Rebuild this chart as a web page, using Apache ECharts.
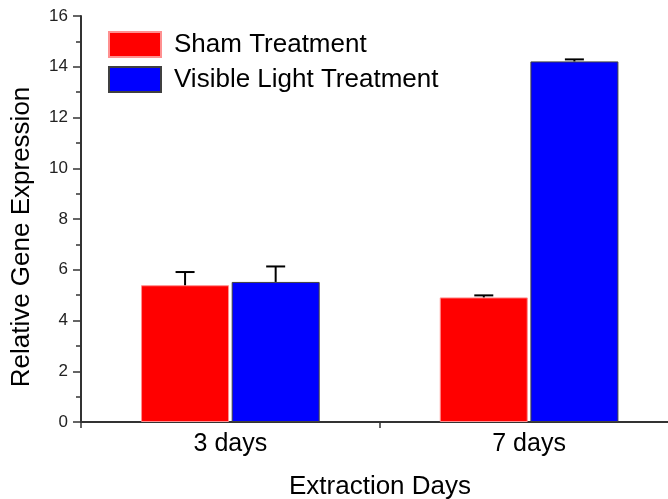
<!DOCTYPE html>
<html><head><meta charset="utf-8">
<script src="https://cdn.jsdelivr.net/npm/echarts@6/dist/echarts.min.js"></script>
<style>html,body{margin:0;padding:0;background:#fff}#c{width:668px;height:499px}</style>
</head><body><div id="c"></div>
<script>
const categories = ['3 days', '7 days'];
const shamValues = [5.39, 4.91];
const shamErrors = [0.52, 0.08];
const lightValues = [5.52, 14.21];
const lightErrors = [0.61, 0.08];
const yTicks = [0, 2, 4, 6, 8, 10, 12, 14, 16];
const catIndex = categories.map((c, i) => i);
const boundaryTicks = [-0.5, 0.5];

const chart = echarts.init(document.getElementById('c'), null, {renderer: 'canvas'});
const FONT = '"Liberation Sans", Arial, sans-serif';

function errSeries(vals, errs, offset) {
  return {
    type: 'custom',
    z: 5,
    data: vals.map((v, i) => [i, v, v + errs[i]]),
    renderItem: function (params, api) {
      const lo = api.coord([api.value(0), api.value(1)]);
      const hi = api.coord([api.value(0), api.value(2)]);
      const x = lo[0] + offset;
      const cap = 9.5;
      const st = {stroke: '#000', lineWidth: 2};
      return {type: 'group', children: [
        {type: 'line', shape: {x1: x, y1: lo[1], x2: x, y2: hi[1]}, style: st},
        {type: 'line', shape: {x1: x - cap, y1: hi[1], x2: x + cap, y2: hi[1]}, style: st}
      ]};
    }
  };
}

chart.setOption({
  animation: false,
  textStyle: {fontFamily: FONT},
  grid: {left: 81, right: 0, top: 16, bottom: 77, containLabel: false, outerBoundsMode: 'none'},
  legend: {
    orient: 'vertical', left: 108, top: 31, padding: 0,
    itemWidth: 52, itemHeight: 25, itemGap: 8,
    textStyle: {fontSize: 26, color: '#000', fontFamily: FONT, padding: [0, 0, 0, 8], lineHeight: 25},
    data: [{name: 'Sham Treatment', icon: 'rect'}, {name: 'Visible Light Treatment', icon: 'rect'}]
  },
  xAxis: {
    type: 'value', min: -0.5, max: 1.465,
    name: 'Extraction Days', nameLocation: 'middle', nameGap: 52,
    nameTextStyle: {fontSize: 26, color: '#000', fontFamily: FONT, padding: [0, 0, 0, 11]},
    axisLine: {show: true, onZero: false, lineStyle: {color: '#333', width: 2}},
    axisTick: {show: true, length: 6, customValues: boundaryTicks, lineStyle: {color: '#333', width: 1.5}},
    splitLine: {show: false},
    axisLabel: {fontSize: 25, color: '#000', margin: 10, fontFamily: FONT,
      customValues: catIndex, formatter: v => categories[Math.round(v)] || ''}
  },
  yAxis: {
    type: 'value', min: 0, max: 16, interval: 2,
    name: 'Relative Gene Expression', nameLocation: 'middle', nameGap: 46,
    nameTextStyle: {fontSize: 26, color: '#000', fontFamily: FONT, padding: [0, 36, 0, 0]},
    axisLine: {show: true, onZero: false, lineStyle: {color: '#333', width: 2}},
    axisTick: {show: true, inside: false, length: 8, lineStyle: {color: '#333', width: 1.5}},
    minorTick: {show: true, splitNumber: 2, length: 5, lineStyle: {color: '#333', width: 1.5}},
    splitLine: {show: false},
    axisLabel: {fontSize: 17, color: '#222', margin: 13, fontFamily: FONT,
      formatter: v => yTicks.includes(v) ? String(v) : ''}
  },
  series: [
    {name: 'Sham Treatment', type: 'bar', data: shamValues.map((v, i) => [i, v]), barWidth: 88, barGap: '3%',
     itemStyle: {color: '#ff0000', borderColor: '#ff9090', borderWidth: 1}},
    {name: 'Visible Light Treatment', type: 'bar', data: lightValues.map((v, i) => [i, v]), barWidth: 88, barGap: '3%',
     itemStyle: {color: '#0000ff', borderColor: '#404040', borderWidth: 1}},
    errSeries(shamValues, shamErrors, -45.3),
    errSeries(lightValues, lightErrors, 45.3)
  ]
});
</script></body></html>
